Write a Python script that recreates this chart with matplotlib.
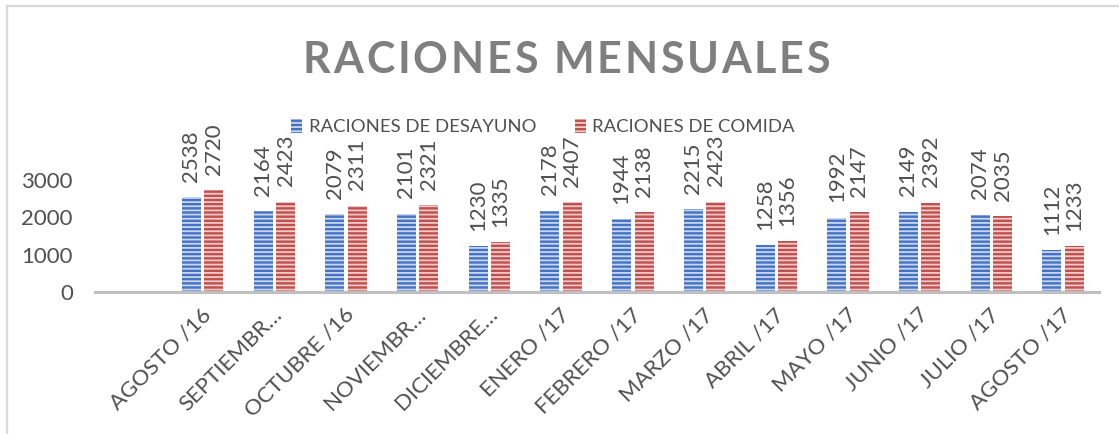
import matplotlib.pyplot as plt
from matplotlib.patches import Patch
from matplotlib.lines import Line2D
from matplotlib.transforms import ScaledTranslation
import numpy as np

# datos del grafico
meses = ['AGOSTO /16', 'SEPTIEMBR…', 'OCTUBRE /16', 'NOVIEMBR…', 'DICIEMBRE…',
         'ENERO /17', 'FEBRERO /17', 'MARZO /17', 'ABRIL /17', 'MAYO /17',
         'JUNIO /17', 'JULIO /17', 'AGOSTO /17']
desayuno = [2538, 2164, 2079, 2101, 1230, 2178, 1944, 2215, 1258, 1992, 2149, 2074, 1112]
comida = [2720, 2423, 2311, 2321, 1335, 2407, 2138, 2423, 1356, 2147, 2392, 2035, 1233]
y_ticks = [0, 1000, 2000, 3000]

AZUL = '#4472C4'
ROJO = '#C0504D'
GRIS_TXT = '#505050'

plt.rcParams['font.family'] = ['Lato', 'DejaVu Sans']
plt.rcParams['hatch.linewidth'] = 1.3

W, H = 1119, 434
fig = plt.figure(figsize=(W / 100, H / 100), dpi=100)

# area del grafico (pixeles -> fraccion)
left, right, top, bottom = 95, 1099, 180, 292
ax = fig.add_axes([left / W, 1 - bottom / H, (right - left) / W, (bottom - top) / H])

x = np.arange(1, len(meses) + 1)   # la primera categoria queda vacia
bw = 0.265
off = 0.157
b1 = ax.bar(x - off, desayuno, bw, color=AZUL, edgecolor='#c9d6ef', linewidth=0, hatch='----')
b2 = ax.bar(x + off, comida, bw, color=ROJO, edgecolor='#efc9c8', linewidth=0, hatch='----')

for bars, vals in ((b1, desayuno), (b2, comida)):
    for r, v in zip(bars, vals):
        ax.annotate(str(v), (r.get_x() + r.get_width() / 2, r.get_height()),
                    xytext=(0, 11), textcoords='offset points', rotation=90,
                    ha='center', va='bottom', fontsize=16, color=GRIS_TXT,
                    annotation_clip=False)

ax.set_xlim(-0.5, len(meses) + 0.5)
ax.set_ylim(0, 3000)
ax.set_yticks(y_ticks)
ax.set_yticklabels([str(t) for t in y_ticks], fontsize=16, color=GRIS_TXT)
ax.set_xticks(x)
ax.set_xticklabels(meses, rotation=45, rotation_mode='anchor', ha='right', va='center',
                   fontsize=16, color=GRIS_TXT)
ax.tick_params(axis='both', length=0)
ax.tick_params(axis='x', pad=14)
ax.tick_params(axis='y', pad=16)
desp = ScaledTranslation(5 / 100, 0, fig.dpi_scale_trans)
for lab in ax.get_xticklabels():
    lab.set_transform(lab.get_transform() + desp)
for s in ['top', 'right', 'left']:
    ax.spines[s].set_visible(False)
ax.spines['bottom'].set_color('#bfbfbf')
ax.spines['bottom'].set_linewidth(2.2)

# leyenda
handles = [Patch(facecolor=AZUL, edgecolor='#c9d6ef', linewidth=0, hatch='----'),
           Patch(facecolor=ROJO, edgecolor='#efc9c8', linewidth=0, hatch='----')]
fig.legend(handles, ['RACIONES DE DESAYUNO', 'RACIONES DE COMIDA'], ncol=2,
           loc='center', bbox_to_anchor=(543 / W, 1 - 127 / H), frameon=False,
           fontsize=13.3, labelcolor=GRIS_TXT, handlelength=0.6, handleheight=0.85,
           handletextpad=0.35, columnspacing=2.1)

# titulo con espaciado entre letras
titulo = 'RACIONES MENSUALES'
x0, x1 = 303, 830
r = fig.canvas.get_renderer()
anchos = []
for c in titulo:
    t = fig.text(0, 0, c, fontsize=31, fontweight='bold')
    anchos.append(t.get_window_extent(r).width)
    t.remove()
esp = (x1 - x0 - sum(anchos)) / (len(titulo) - 1)
px = x0
for c, w in zip(titulo, anchos):
    fig.text(px / W, 1 - 73 / H, c, fontsize=31, fontweight='bold', color='#7f7f7f',
             ha='left', va='baseline')
    px += w + esp

# borde del grafico
fig.add_artist(Line2D([7 / W, 7 / W], [0, 1 - 6 / H], color='#d9d9d9', lw=1.6))
fig.add_artist(Line2D([7 / W, 1], [1 - 6 / H, 1 - 6 / H], color='#d9d9d9', lw=1.6))

fig.savefig('out.png', dpi=100)
